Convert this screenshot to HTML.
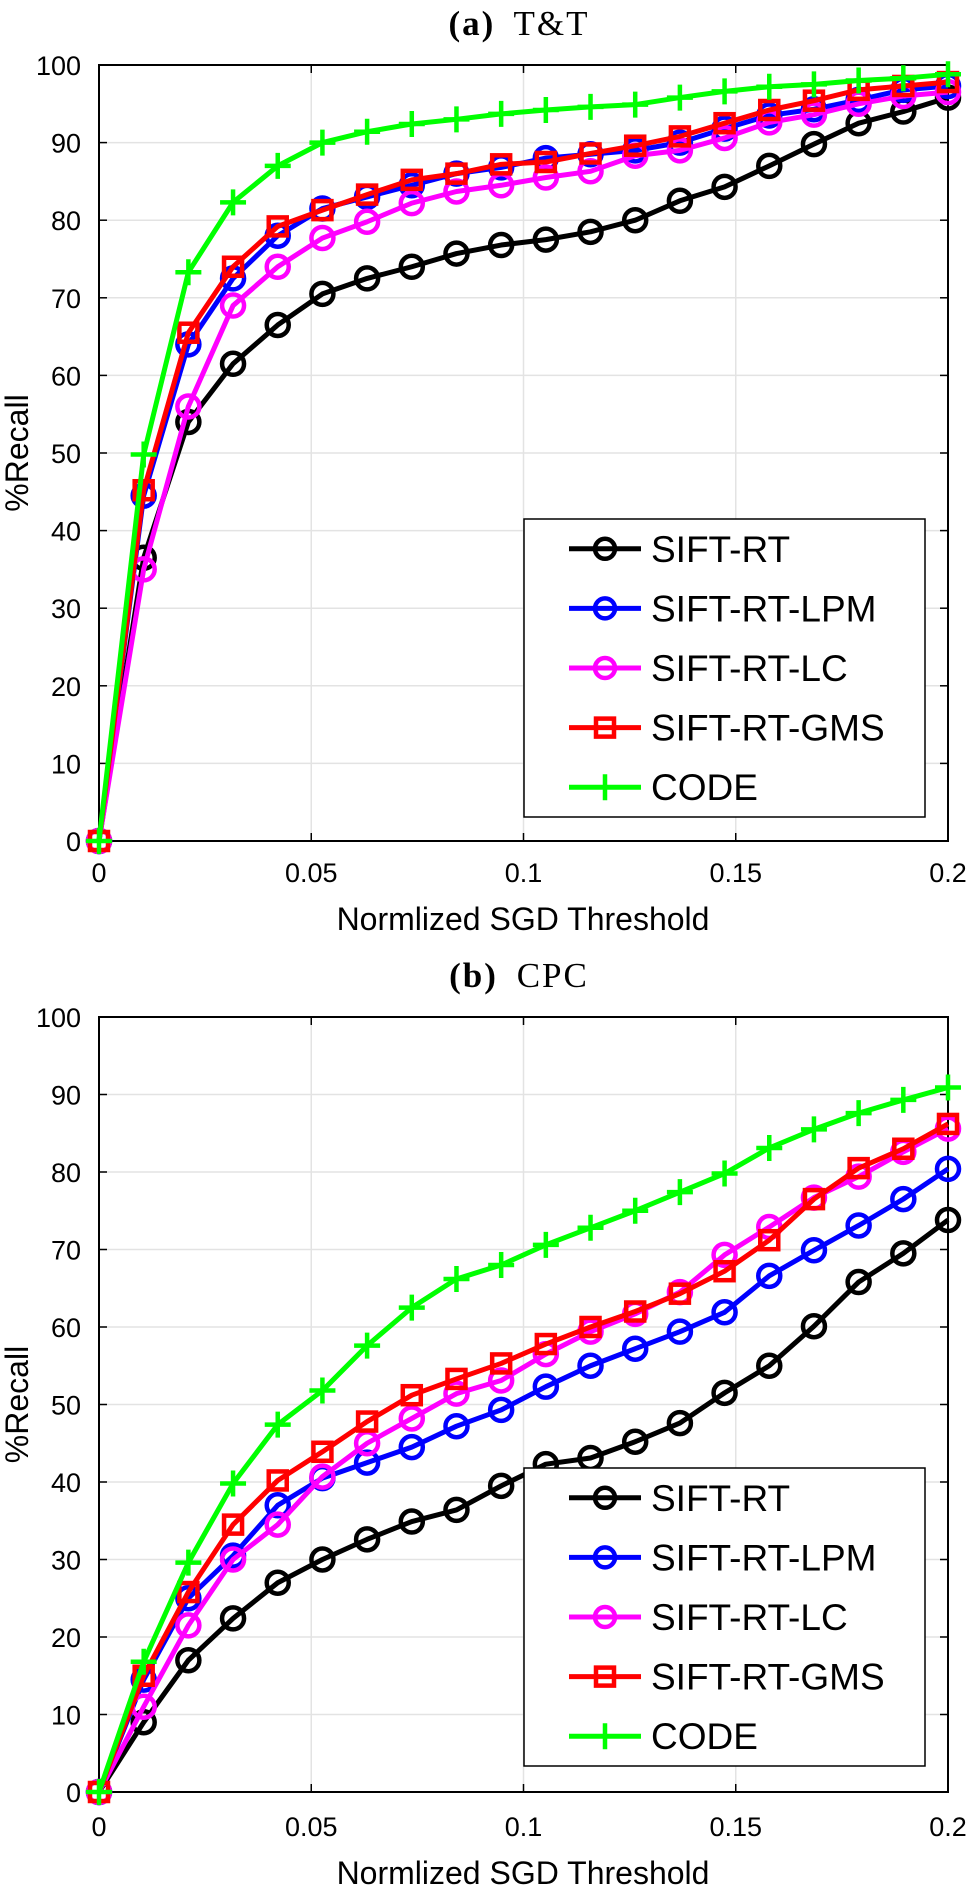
<!DOCTYPE html>
<html><head><meta charset="utf-8"><style>
html,body{margin:0;padding:0;background:#fff;}
svg{display:block;}
text{font-family:"Liberation Sans",sans-serif;}
</style></head><body>
<svg id="fig" width="969" height="1891" viewBox="0 0 969 1891" xmlns="http://www.w3.org/2000/svg"></svg>
<script>
const xValues = [0,1,2,3,4,5,6,7,8,9,10,11,12,13,14,15,16,17,18,19].map(i=>i*0.2/19);
const xTicks = [0,0.05,0.1,0.15,0.2];
const xTickLabels = ["0","0.05","0.1","0.15","0.2"];
const yTicks = [0,10,20,30,40,50,60,70,80,90,100];
const seriesNames = ["SIFT-RT","SIFT-RT-LPM","SIFT-RT-LC","SIFT-RT-GMS","CODE"];
const a_siftRT = [0,36.5,54,61.5,66.5,70.5,72.5,74,75.7,76.8,77.5,78.5,80,82.5,84.3,87,89.8,92.5,94,95.8];
const a_lpm = [0,44.5,64,72.5,78,81.5,83,84.5,86,86.8,88,88.5,89,90,91.8,93.5,94.3,95.5,96.8,97.3];
const a_lc = [0,35,56,69,74,77.7,79.8,82.2,83.7,84.5,85.5,86.3,88.3,89,90.6,92.6,93.6,95,96,96.5];
const a_gms = [0,45.2,65.5,74,79.2,81.3,83.3,85.2,86,87.2,87.5,88.6,89.6,90.8,92.5,94.2,95.4,96.8,97.3,97.8];
const a_code = [0,49.8,73.3,82.3,87,90,91.4,92.4,93,93.7,94.2,94.6,94.9,95.8,96.6,97.2,97.5,98,98.3,98.8];
const b_siftRT = [0,9,17,22.4,27,30,32.6,34.9,36.4,39.5,42.3,43.1,45.2,47.6,51.5,55,60.1,65.8,69.5,73.8];
const b_lpm = [0,14.5,25,30.5,37,40.5,42.5,44.5,47.2,49.3,52.3,55,57.2,59.4,61.9,66.6,69.9,73.1,76.5,80.4];
const b_lc = [0,11,21.5,30,34.5,40.7,45,48.2,51.4,53.1,56.5,59.4,61.7,64.5,69.3,72.9,76.7,79.4,82.6,85.6];
const b_gms = [0,15,25.8,34.5,40.2,43.9,47.8,51.2,53.3,55.3,57.8,60,62,64.3,67.2,71.2,76.5,80.5,83,86.2];
const b_code = [0,16.8,29.6,39.8,47.4,51.8,57.6,62.5,66.2,68,70.6,72.8,75,77.4,79.8,83.1,85.5,87.6,89.3,90.9];

const NS="http://www.w3.org/2000/svg";
const svg=document.getElementById('fig');
const colors=["#000000","#0000ff","#ff00ff","#ff0000","#00ff00"];
const markers=["circle","circle","circle","square","plus"];
function mk(tag,attrs,parent){const e=document.createElementNS(NS,tag);for(const k in attrs)e.setAttribute(k,attrs[k]);(parent||svg).appendChild(e);return e;}
function drawMarker(g,type,x,y,c){
  if(type==="circle") return mk('circle',{cx:x,cy:y,r:11,fill:'none',stroke:c,'stroke-width':4.5},g);
  if(type==="square") return mk('rect',{x:x-9,y:y-9,width:18,height:18,fill:'none',stroke:c,'stroke-width':4.5},g);
  return mk('path',{d:`M${x-13},${y}H${x+13}M${x},${y-13}V${y+13}`,stroke:c,'stroke-width':4.5,fill:'none'},g);
}
function plot(pid,title,top,bottom,data,legTop,legBottom,xtlY,xlY,titleY){
  const L=99,R=948;
  const xs=v=>L+(v/0.2)*(R-L);
  const ys=v=>bottom-(v/100)*(bottom-top);
  const g=mk('g',{});
  
  
  const t=mk('text',{x:519,y:titleY,'text-anchor':'middle','font-size':35,'letter-spacing':2,'word-spacing':8,style:'font-family:"Liberation Serif",serif'},g);
  
  
  t.innerHTML=title;
  yTicks.forEach(v=>{
    mk('line',{x1:L,x2:R,y1:ys(v),y2:ys(v),stroke:'#e3e3e3','stroke-width':1.5},g);
    mk('line',{x1:L,x2:L+8,y1:ys(v),y2:ys(v),stroke:'#000','stroke-width':1.5},g);
    mk('line',{x1:R-8,x2:R,y1:ys(v),y2:ys(v),stroke:'#000','stroke-width':1.5},g);
    const tl=mk('text',{x:81,y:ys(v)+10,'text-anchor':'end','font-size':27},g);
    
    
    tl.textContent=v;
  });
  xTicks.forEach((v,i)=>{
    mk('line',{x1:xs(v),x2:xs(v),y1:top,y2:bottom,stroke:'#e3e3e3','stroke-width':1.5},g);
    mk('line',{x1:xs(v),x2:xs(v),y1:bottom-8,y2:bottom,stroke:'#000','stroke-width':1.5},g);
    mk('line',{x1:xs(v),x2:xs(v),y1:top,y2:top+8,stroke:'#000','stroke-width':1.5},g);
    const tl=mk('text',{x:xs(v),y:xtlY,'text-anchor':'middle','font-size':27},g);
    
    
    tl.textContent=xTickLabels[i];
  });
  mk('rect',{x:L,y:top,width:R-L,height:bottom-top,fill:'none',stroke:'#000','stroke-width':2},g);
  const xl=mk('text',{x:523,y:xlY,'text-anchor':'middle','font-size':32},g);
  
  
  xl.textContent="Normlized SGD Threshold";
  const cy=(top+bottom)/2;
  const yl=mk('text',{x:28,y:cy,'text-anchor':'middle','font-size':32,transform:`rotate(-90 28 ${cy})`},g);
  
  
  yl.textContent="%Recall";
  data.forEach((s,si)=>{
    const sg=mk('g',{},g);
    
    
    mk('polyline',{points:s.map((v,i)=>xs(xValues[i])+','+ys(v)).join(' '),fill:'none',stroke:colors[si],'stroke-width':5,'stroke-linejoin':'round'},sg);
    s.forEach((v,i)=>{
      const m=drawMarker(sg,markers[si],xs(xValues[i]),ys(v),colors[si]);
      
      
    });
  });
  const lg=mk('g',{},g);
  
  
  mk('rect',{x:524,y:legTop,width:401,height:legBottom-legTop,fill:'#fff',stroke:'#000','stroke-width':1.5},lg);
  const step=(legBottom-legTop)/5;
  seriesNames.forEach((n,si)=>{
    const y=legTop+step*(si+0.5);
    const eg=mk('g',{},lg);
    
    
    mk('line',{x1:569,x2:641,y1:y,y2:y,stroke:colors[si],'stroke-width':5},eg);
    const m=drawMarker(eg,markers[si],605,y,colors[si]);
    if(markers[si]==="circle") m.setAttribute('r',10);
    const tx=mk('text',{x:651,y:y+13,'font-size':37},eg);
    tx.textContent=n;
  });
}
plot('plot-a','<tspan font-weight="bold">(a)</tspan> T&amp;T',65,841,[a_siftRT,a_lpm,a_lc,a_gms,a_code],519,817,882,930,35);
plot('plot-b','<tspan font-weight="bold">(b)</tspan> CPC',1017,1792,[b_siftRT,b_lpm,b_lc,b_gms,b_code],1468,1766,1836,1884,987);
</script>
</body></html>
